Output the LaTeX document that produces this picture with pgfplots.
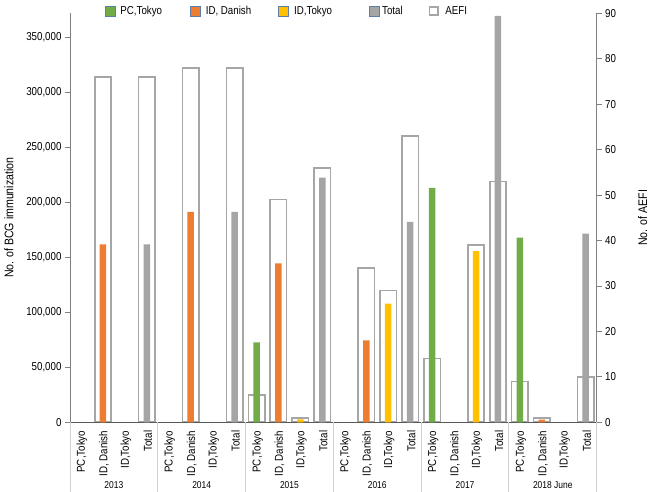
\documentclass[border=0pt]{standalone}
\usepackage{fontspec}
\setmainfont{Liberation Sans}[FakeStretch=0.85]
\usepackage{pgfplots}
\pgfplotsset{compat=1.18}
\definecolor{cgreen}{HTML}{70AD47}
\definecolor{corange}{HTML}{ED7D31}
\definecolor{cyellow}{HTML}{FFC000}
\definecolor{cgray}{HTML}{A5A5A5}
\definecolor{cbox}{HTML}{A6A6A6}
\definecolor{caxis}{HTML}{808080}
\definecolor{cxaxis}{HTML}{595959}
\definecolor{csep}{HTML}{D0D0D0}
\definecolor{cleg}{HTML}{5B7FA8}
\begin{document}
\begin{tikzpicture}
\pgfplotsset{
  common/.style={
    width=526.7bp, height=409bp, scale only axis,
    xmin=-0.5, xmax=23.5, ymin=0, clip=false,
    /pgf/number format/assume math mode=true,
    tick label style={font=\fontsize{11.5}{12}\selectfont},
    tick align=outside, major tick length=5bp,
    tick style={caxis, line width=0.8bp},
    axis line style={caxis, line width=0.8bp, -},
    ybar, bar shift=0pt,
  }
}
% ---------- AEFI (right axis) ----------
\begin{axis}[common, name=ax2,
  ymax=90, axis y line*=right, axis x line=none,
  ytick={0,10,...,90},
  ylabel={No. of AEFI},
  ylabel style={font=\fontsize{12.5}{14}\selectfont, at={(axis description cs:1.0873,0.5)}, anchor=center},
  bar width=16.4bp,
]
\addplot[bar shift=0pt, fill=white, draw=cbox, line width=1.6bp] coordinates {
  (1,76) (3,76) (5,78) (7,78) (8,6) (9,49) (10,1) (11,56)
  (13,34) (14,29) (15,63) (16,14) (18,39) (19,53) (20,9) (21,1) (23,10)
};
\end{axis}
% ---------- BCG (left axis) ----------
\begin{axis}[common, name=ax1,
  ymax=371800, axis y line*=left, axis x line*=bottom,
  x axis line style={cxaxis, line width=0.9bp},
  ytick={0,50000,100000,150000,200000,250000,300000,350000},
  scaled y ticks=false,
  yticklabel style={/pgf/number format/.cd, fixed, 1000 sep={,}},
  xtick={0,...,23},
  xticklabels={{PC,Tokyo},{ID, Danish},{ID,Tokyo},Total,
               {PC,Tokyo},{ID, Danish},{ID,Tokyo},Total,
               {PC,Tokyo},{ID, Danish},{ID,Tokyo},Total,
               {PC,Tokyo},{ID, Danish},{ID,Tokyo},Total,
               {PC,Tokyo},{ID, Danish},{ID,Tokyo},Total,
               {PC,Tokyo},{ID, Danish},{ID,Tokyo},Total},
  xtick style={draw=none},
  xticklabel style={rotate=90, anchor=east, font=\fontsize{11.5}{12}\selectfont, yshift=-1bp},
  ylabel={No. of BCG immunization},
  ylabel style={font=\fontsize{12.5}{14}\selectfont, at={(axis description cs:-0.1158,0.5)}, anchor=center},
  bar width=6.5bp,
  legend columns=5,
  legend style={draw=none, fill=none, inner sep=0pt, outer sep=0pt,
    at={(axis description cs:0.0665,1)}, anchor=west, yshift=2.3bp,
    font=\fontsize{11.5}{12}\selectfont,
    nodes={inner sep=0pt},
    /tikz/every odd column/.append style={column sep=4.8bp},
    /tikz/every even column/.append style={column sep=0bp}},
]
\addplot[bar shift=0pt, fill=cgreen, draw=none,
  legend image code/.code={\draw[fill=cgreen,draw=cleg,line width=0.6bp] (0bp,-5bp) rectangle (10bp,5bp);}]
  coordinates {(8,72700) (16,213000) (20,167800)};
\addlegendentry{\makebox[70bp][l]{PC,Tokyo}}
\addplot[bar shift=0pt, fill=corange, draw=none,
  legend image code/.code={\draw[fill=corange,draw=cleg,line width=0.6bp] (0bp,-5bp) rectangle (10bp,5bp);}]
  coordinates {(1,161800) (5,191200) (9,144500) (13,74500) (21,2500)};
\addlegendentry{\makebox[72bp][l]{ID, Danish}}
\addplot[bar shift=0pt, fill=cyellow, draw=none,
  legend image code/.code={\draw[fill=cyellow,draw=cleg,line width=0.6bp] (0bp,-5bp) rectangle (10bp,5bp);}]
  coordinates {(10,2600) (14,107800) (18,155700)};
\addlegendentry{\makebox[76bp][l]{\hspace{1bp}ID,Tokyo}}
\addplot[bar shift=0pt, fill=cgray, draw=none,
  legend image code/.code={\draw[fill=cgray,draw=cleg,line width=0.6bp] (0bp,-5bp) rectangle (10bp,5bp);}]
  coordinates {(3,161800) (7,191200) (11,222400) (15,182300) (19,369400) (23,171500)};
\addlegendentry{\makebox[44bp][l]{\hspace{-2.5bp}Total}}
\addlegendimage{legend image code/.code={\draw[fill=white,draw=cbox,line width=1.6bp] (0.8bp,-4.2bp) rectangle (9.2bp,4.2bp);}}
\addlegendentry{\hspace{2bp}AEFI}
% group separators and labels
\pgfplotsinvokeforeach{-0.5,3.5,7.5,11.5,15.5,19.5,23.5}{
  \draw[csep, line width=0.9bp] (axis cs:#1,0) -- ++(0bp,-70bp);
}
\node[font=\fontsize{10}{11}\selectfont] at ([yshift=-63bp]axis cs:1.5,0) {2013};
\node[font=\fontsize{10}{11}\selectfont] at ([yshift=-63bp]axis cs:5.5,0) {2014};
\node[font=\fontsize{10}{11}\selectfont] at ([yshift=-63bp]axis cs:9.5,0) {2015};
\node[font=\fontsize{10}{11}\selectfont] at ([yshift=-63bp]axis cs:13.5,0) {2016};
\node[font=\fontsize{10}{11}\selectfont] at ([yshift=-63bp]axis cs:17.5,0) {2017};
\node[font=\fontsize{10}{11}\selectfont] at ([yshift=-63bp]axis cs:21.5,0) {2018 June};
\end{axis}
\pgfresetboundingbox
\path[use as bounding box] ([shift={(-70bp,-69.7bp)}]ax1.south west) rectangle ([shift={(53.3bp,13.3bp)}]ax1.north east);
\end{tikzpicture}
\end{document}
